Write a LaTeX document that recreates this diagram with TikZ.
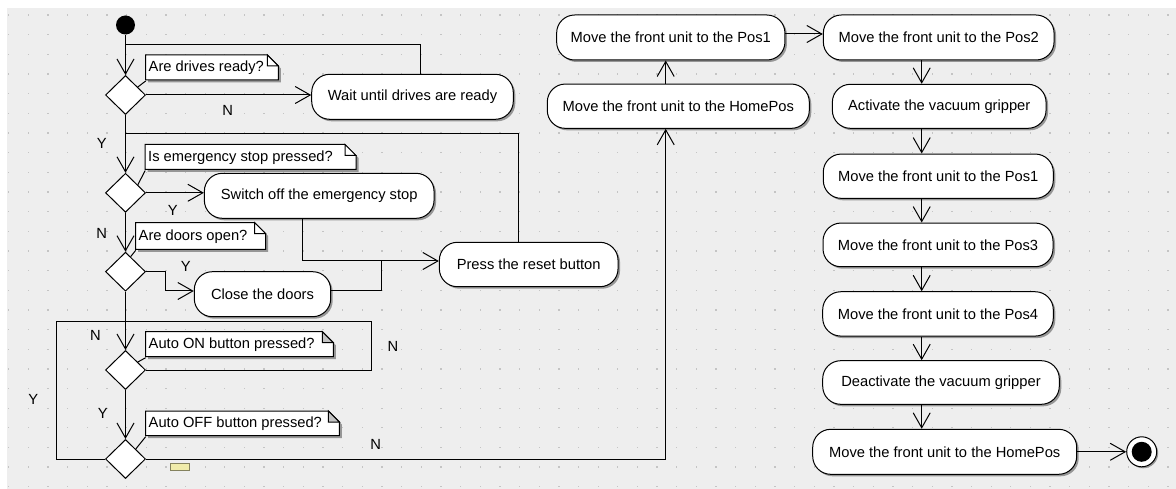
\documentclass[tikz,border=0pt]{standalone}
\usepackage{fontspec}
\setmainfont{Liberation Sans}
\usetikzlibrary{arrows.meta,shapes.geometric,shadows,calc}
\definecolor{bgc}{RGB}{238,238,238}
\definecolor{dotc}{RGB}{196,196,196}
\definecolor{shadowc}{RGB}{150,150,150}
\definecolor{foldc}{RGB}{195,195,195}
\definecolor{yel}{RGB}{240,236,170}
\newcommand\notebox[7]{%
  \fill[shadowc] ({#2+2.5},{#3+2.5}) -- ({#4-8.5},{#3+2.5}) -- ({#4+2.5},{#3+13.5}) -- ({#4+2.5},{#5+2.5}) -- ({#2+2.5},{#5+2.5}) -- cycle;
  \filldraw[fill=white] (#2,#5) -- (#2,#3) -- ({#4-11},#3) -- (#4,{#3+11}) -- (#4,#5) -- cycle;
  \filldraw[fill=#7] ({#4-11},#3) -- ({#4-11},{#3+11}) -- (#4,{#3+11}) -- cycle;
  \node[notetxt, minimum height={#5-#3}] (#1) at (#2,#3) {#6};
}
\begin{document}
\begin{tikzpicture}[x=1pt,y=-1pt,line width=1pt,
  every node/.style={font=\fontsize{14.7}{17}\selectfont},
  actv/.style={draw, fill=white, rounded corners=18pt, inner sep=0pt,
    drop shadow={shadow xshift=2pt, shadow yshift=-2pt, fill=shadowc, opacity=1}},
  dec/.style={diamond, draw, fill=white, minimum width=40pt, minimum height=39pt, inner sep=0pt},
  arr/.style={-{Straight Barb[length=15pt,width=17pt,line width=1pt]}},
  lbl/.style={inner sep=0pt},
  notetxt/.style={inner xsep=2.5pt, inner ysep=0pt, anchor=north west}]
\useasboundingbox (0,0) rectangle (1176,489);
\fill[bgc] (6.5,8.3) rectangle (1176,489);
\foreach \i in {0,...,59}{\foreach \j in {0,...,24}{\fill[dotc] ({8+19.65*\i},{14.5+19.65*\j}) rectangle ++(1.3,1.3);}}

% notes
\notebox{n1}{145.7}{55}{278.3}{80}{Are drives ready?}{white}
\notebox{n2}{145.2}{144.5}{356}{169.5}{Is emergency stop pressed?}{white}
\notebox{n3}{135.7}{222.7}{265.7}{249.3}{Are doors open?}{white}
\notebox{n4}{145.7}{331.7}{333.3}{356.7}{Auto ON button pressed?}{foldc}
\notebox{n5}{145.7}{411}{339.3}{435.7}{Auto OFF button pressed?}{foldc}
\filldraw[fill=yel, draw=yel!55!black, line width=0.8pt] (170.7,463.3) rectangle (189.3,470.7);

% start and decisions
\node[circle, fill=black, minimum size=19pt, inner sep=0pt] (start) at (125.5,25) {};
\node[dec] (d1) at (125.5,95) {};
\node[dec] (d2) at (125.5,192.8) {};
\node[dec] (d3) at (125.5,271.7) {};
\node[dec] (d4) at (125.5,370) {};
\node[dec] (d5) at (125.5,459) {};

% activities
\node[actv, minimum width=201.6pt, minimum height=45pt] (wait) at (412.5,96.8) {Wait until drives are ready};
\node[actv, minimum width=229.7pt, minimum height=45pt] (switch) at (319.2,195.8) {Switch off the emergency stop};
\node[actv, minimum width=178.7pt, minimum height=44.4pt] (reset) at (528.7,264.5) {Press the reset button};
\node[actv, minimum width=136.4pt, minimum height=45pt] (close) at (262.5,294.2) {Close the doors};
\node[actv, minimum width=228.3pt, minimum height=45pt] (p1a) at (670.8,37.5) {Move the front unit to the Pos1};
\node[actv, minimum width=262pt, minimum height=44.3pt] (hma) at (678.3,106.2) {Move the front unit to the HomePos};
\node[actv, minimum width=230.7pt, minimum height=45pt] (p2) at (938.7,37.5) {Move the front unit to the Pos2};
\node[actv, minimum width=213.7pt, minimum height=44pt] (vac) at (939.2,106.3) {Activate the vacuum gripper};
\node[actv, minimum width=230pt, minimum height=44.3pt] (p1b) at (938.3,176.2) {Move the front unit to the Pos1};
\node[actv, minimum width=230pt, minimum height=43.7pt] (p3) at (938,244.9) {Move the front unit to the Pos3};
\node[actv, minimum width=230.6pt, minimum height=44.3pt] (p4) at (938,313.9) {Move the front unit to the Pos4};
\node[actv, minimum width=236.6pt, minimum height=43.6pt] (dvac) at (941,382.5) {Deactivate the vacuum gripper};
\node[actv, minimum width=264pt, minimum height=45pt] (hmb) at (944.7,451.8) {Move the front unit to the HomePos};
\node[circle, draw, fill=white, minimum size=30pt, inner sep=0pt,
  drop shadow={shadow xshift=1.5pt, shadow yshift=-1.5pt, fill=shadowc, opacity=1}] (end) at (1141.7,451.8) {};
\fill (end.center) circle (10);

% labels
\node[lbl] (ln1) at (227.7,110) {N};
\node[lbl] (ly1) at (101.8,143.3) {Y};
\node[lbl] (ly2) at (172.9,210) {Y};
\node[lbl] (ln2) at (101.7,233.3) {N};
\node[lbl] (ly3) at (185.7,266.7) {Y};
\node[lbl] (ln3) at (95.5,335) {N};
\node[lbl] (ln4) at (393,346.7) {N};
\node[lbl] (ly4) at (33.3,399.3) {Y};
\node[lbl] (ly5) at (102.7,413.3) {Y};
\node[lbl] (ln5) at (375.7,444) {N};

% junctions
\coordinate (j1) at (125.5,45);
\coordinate (j2) at (125.5,134);
\coordinate (j3) at (381.5,261);
\coordinate (j4) at (125.5,321.7);
\coordinate (r4) at (371,321.7);
\coordinate (l4) at (56.7,321.7);
\coordinate (c2) at (921.7,0);

% note connectors
\draw (n1.south west) -- ($(d1.north)!0.6!(d1.east)$);
\draw (n2.south west) -- ($(d2.north)!0.6!(d2.east)$);
\draw (n3.south west) -- ($(d3.north)!0.25!(d3.east)$);
\draw (n4.south west) -- ($(d4.north)!0.6!(d4.east)$);
\draw (n5.south west) -- ($(d5.north)!0.5!(d5.east)$);

% flows
\draw[arr] (start) -- (d1.north);
\draw ([xshift=7.5pt]wait.north) |- (j1);
\draw[arr] (d1.east) -- (d1.east -| wait.west);
\draw[arr] (d1.south) -- (d2.north);
\draw ([xshift=-10.4pt]reset.north) |- (j2);
\draw[arr] (d2.east) -- (d2.east -| switch.west);
\draw[arr] ([xshift=-16.7pt]switch.south) |- ([yshift=3.5pt]reset.west);
\draw[arr] (d2.south) -- (d3.north);
\draw[arr] (d3.east) -- ++(19.5,0) |- ([yshift=3.2pt]close.west);
\draw ([yshift=3.2pt]close.east) -| (j3);
\draw[arr] (d3.south) -- (d4.north);
\draw (d4.east) -| (r4) -- (j4);
\draw[arr] (d4.south) -- (d5.north);
\draw (d5.west) -| (l4) -- (j4);
\draw[arr] (d5.east) -| ([xshift=-12.6pt]hma.south);
\draw[arr] ([xshift=-12.6pt]hma.north) -- ([xshift=-12.6pt]hma.north |- p1a.south);
\draw[arr] ([yshift=3.5pt]p1a.east) -- ([yshift=3.5pt]p2.west);
\draw[arr] (p2.south -| c2) -- (vac.north -| c2);
\draw[arr] (vac.south -| c2) -- (p1b.north -| c2);
\draw[arr] (p1b.south -| c2) -- (p3.north -| c2);
\draw[arr] (p3.south -| c2) -- (p4.north -| c2);
\draw[arr] (p4.south -| c2) -- (dvac.north -| c2);
\draw[arr] (dvac.south -| c2) -- (hmb.north -| c2);
\draw[arr] (hmb.east) -- (end.west);
\end{tikzpicture}
\end{document}
